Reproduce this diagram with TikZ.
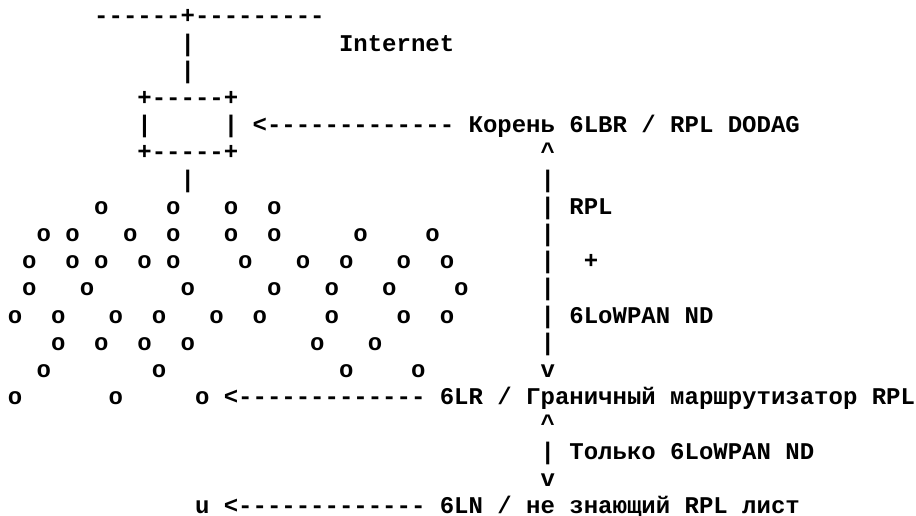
\documentclass[tikz,border=0pt]{standalone}
\usepackage{fontspec}
\setmonofont{Liberation Mono}
\tikzset{
  asc/.style={anchor=base west, inner sep=0pt, outer sep=0pt,
    font=\ttfamily\bfseries\fontsize{24}{27}\selectfont},
}
\begin{document}
\begin{tikzpicture}[x=14.4pt, y=-27.2pt]
  \useasboundingbox (0,0) rectangle (63.611,18.934);
  \begin{scope}[shift={(0.542,-0.118)}]
    % uplink and root box
    \node[asc] (wan) at (6,1) {------+---------};
    \node[asc] (up1) at (12,2) {|};
    \node[asc] (inet) at (23,2) {Internet};
    \node[asc] (up2) at (12,3) {|};
    \node[asc] (boxtop) at (9,4) {+-----+};
    \node[asc] (boxl) at (9,5) {|};
    \node[asc] (boxr) at (15,5) {|};
    \node[asc] (rootarr) at (17,5) {<-------------};
    \node[asc] (root) at (32,5) {Корень 6LBR / RPL DODAG};
    \node[asc] (boxbot) at (9,6) {+-----+};
    \node[asc] (down1) at (12,7) {|};
    % RPL + 6LoWPAN ND span
    \node[asc] (rpltop) at (37,6) {\textasciicircum};
    \foreach \r in {7,...,13} \node[asc] (rplbar-\r) at (37,\r) {|};
    \node[asc] (rplbot) at (37,14) {v};
    \node[asc] (rpl) at (39,8) {RPL};
    \node[asc] (plus) at (40,10) {+};
    \node[asc] (nd) at (39,12) {6LoWPAN ND};
    % mesh of nodes
    \foreach \c in {6,11,15,18} \node[asc] (o8-\c) at (\c,8) {o};
    \foreach \c in {2,4,8,11,15,18,24,29} \node[asc] (o9-\c) at (\c,9) {o};
    \foreach \c in {1,4,6,9,11,16,20,23,27,30} \node[asc] (o10-\c) at (\c,10) {o};
    \foreach \c in {1,5,12,18,22,26,31} \node[asc] (o11-\c) at (\c,11) {o};
    \foreach \c in {0,3,7,10,14,17,22,27,30} \node[asc] (o12-\c) at (\c,12) {o};
    \foreach \c in {3,6,9,12,21,25} \node[asc] (o13-\c) at (\c,13) {o};
    \foreach \c in {2,10,23,28} \node[asc] (o14-\c) at (\c,14) {o};
    \foreach \c in {0,7,13} \node[asc] (o15-\c) at (\c,15) {o};
    % border router and leaf
    \node[asc] (lrarr) at (15,15) {<-------------};
    \node[asc] (lr) at (30,15) {6LR / Граничный маршрутизатор RPL};
    \node[asc] (ndtop) at (37,16) {\textasciicircum};
    \node[asc] (ndbar) at (37,17) {|};
    \node[asc] (ndonly) at (39,17) {Только 6LoWPAN ND};
    \node[asc] (ndbot) at (37,18) {v};
    \node[asc] (leaf) at (13,19) {u};
    \node[asc] (lnarr) at (15,19) {<-------------};
    \node[asc] (ln) at (30,19) {6LN / не знающий RPL лист};
  \end{scope}
\end{tikzpicture}
\end{document}
